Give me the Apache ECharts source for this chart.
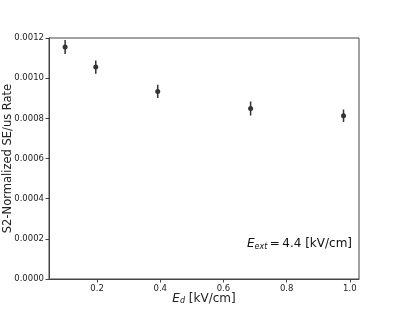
<!DOCTYPE html>
<html>
<head>
<meta charset="UTF-8">
<script src="https://cdn.jsdelivr.net/npm/echarts@6/dist/echarts.min.js"></script>
<style>
  html, body { margin: 0; padding: 0; background: #fff; }
  #main { width: 399px; height: 319px; }
</style>
</head>
<body>
<div id="main"></div>
<script>
const fieldKv = [0.099, 0.196, 0.392, 0.686, 0.980];
const rate = [0.001155, 0.001055, 0.000934, 0.000849, 0.000813];
const rateErr = [0.000035, 0.000033, 0.000033, 0.000035, 0.000031];
const xTicks = [0.2, 0.4, 0.6, 0.8, 1.0];

const points = fieldKv.map((x, i) => [x, rate[i]]);
const bars = fieldKv.map((x, i) => [x, rate[i] - rateErr[i], rate[i] + rateErr[i]]);

const chart = echarts.init(document.getElementById('main'));
const font = 'DejaVu Sans';
chart.setOption({
  animation: false,
  grid: { left: 49, top: 38, right: 40, bottom: 40, containLabel: false, outerBoundsMode: 'none',
    show: true, borderColor: '#444', borderWidth: 1 },
  xAxis: {
    type: 'value', min: 0.048, max: 1.029,
    axisLine: { lineStyle: { color: '#444' } },
    axisTick: { show: true, length: 3.5, inside: false, customValues: xTicks, lineStyle: { color: '#444' } },
    axisLabel: { customValues: xTicks, fontFamily: font, fontSize: 8.5, color: '#222', margin: 5,
      formatter: v => v.toFixed(1) },
    splitLine: { show: false },
    name: '{i|E}{s|d} [kV/cm]',
    nameLocation: 'middle', nameGap: 13, nameMoveOverlap: false,
    nameTextStyle: {
      fontFamily: font, fontSize: 12, color: '#222',
      rich: {
        i: { fontFamily: font, fontSize: 12, fontStyle: 'italic', color: '#222' },
        s: { fontFamily: font, fontSize: 8, fontStyle: 'italic', color: '#222', padding: [5, 0, 0, 0] }
      }
    }
  },
  yAxis: {
    type: 'value', min: 0, max: 0.0012, interval: 0.0002,
    axisLine: { show: true, lineStyle: { color: '#444' } },
    axisTick: { show: true, length: 3.5, lineStyle: { color: '#444' } },
    axisLabel: { fontFamily: font, fontSize: 8.5, color: '#222', margin: 5, formatter: v => v.toFixed(4) },
    splitLine: { show: false },
    name: 'S2-Normalized SE/us Rate',
    nameLocation: 'middle', nameRotate: 90, nameGap: 35, nameMoveOverlap: false,
    nameTextStyle: { fontFamily: font, fontSize: 11.5, color: '#222' }
  },
  graphic: [{
    type: 'text', right: 47, top: 238,
    style: {
      text: '{i|E}{s|ext}{n|\u2009=\u20094.4 [kV/cm]}',
      rich: {
        i: { fontFamily: font, fontSize: 12, fontStyle: 'italic', fill: '#111' },
        s: { fontFamily: font, fontSize: 8, fontStyle: 'italic', fill: '#111', padding: [5, 0, 0, 0] },
        n: { fontFamily: font, fontSize: 12, fill: '#111' }
      }
    }
  }],
  series: [
    {
      type: 'custom',
      data: bars,
      renderItem: (params, api) => {
        const lo = api.coord([api.value(0), api.value(1)]);
        const hi = api.coord([api.value(0), api.value(2)]);
        return {
          type: 'line',
          shape: { x1: lo[0], y1: lo[1], x2: hi[0], y2: hi[1] },
          style: { stroke: '#333', lineWidth: 1.5 }
        };
      },
      z: 1
    },
    {
      type: 'scatter',
      data: points,
      symbol: 'circle',
      symbolSize: 5,
      itemStyle: { color: '#333', opacity: 1 },
      z: 2
    }
  ]
});
</script>
</body>
</html>
